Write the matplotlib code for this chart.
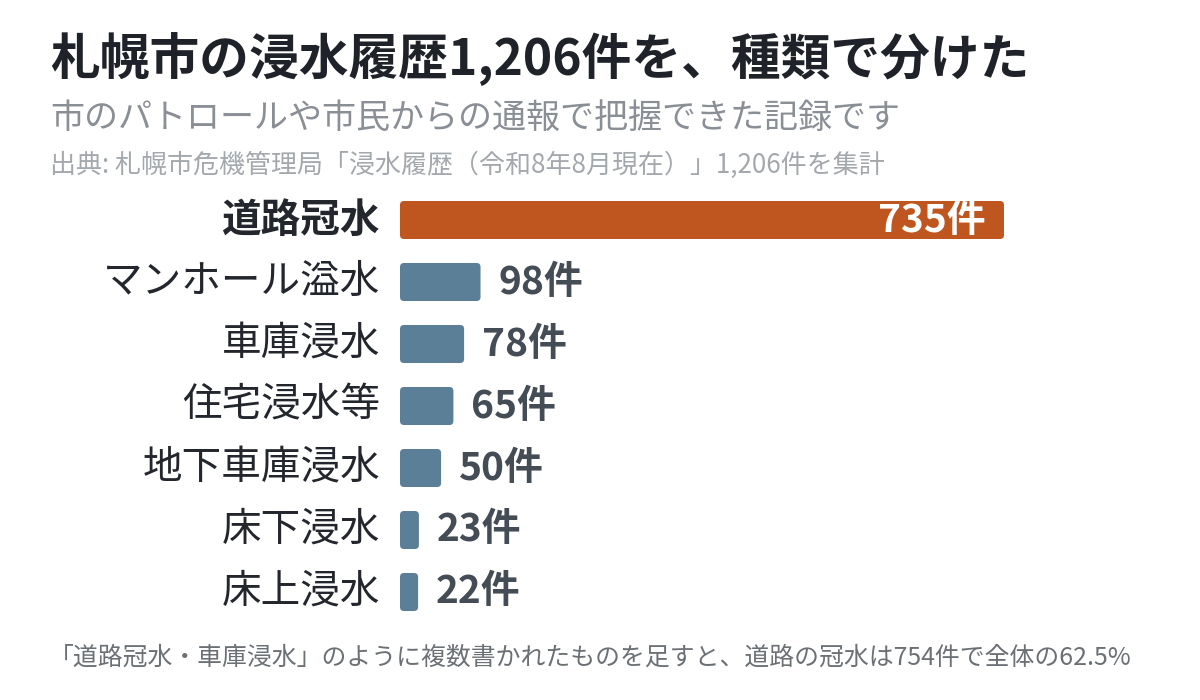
import matplotlib
matplotlib.use("Agg")
import matplotlib.pyplot as plt
from matplotlib.patches import FancyBboxPatch

plt.rcParams['font.family'] = ['Noto Sans CJK JP', 'DejaVu Sans']

categories = ["道路冠水", "マンホール溢水", "車庫浸水", "住宅浸水等", "地下車庫浸水", "床下浸水", "床上浸水"]
values = [735, 98, 78, 65, 50, 23, 22]
value_labels = [f"{v}件" for v in values]

title = "札幌市の浸水履歴1,206件を、種類で分けた"
subtitle = "市のパトロールや市民からの通報で把握できた記録です"
source = "出典: 札幌市危機管理局「浸水履歴（令和8年8月現在）」1,206件を集計"
footnote = "「道路冠水・車庫浸水」のように複数書かれたものを足すと、道路の冠水は754件で全体の62.5%"

W, H = 1200, 700
fig = plt.figure(figsize=(12, 7), dpi=100)
fig.patch.set_facecolor("white")

row_px = 62
ax_left = 400 / W
ax_width = 604 / W
ax_top_px = 220 - row_px / 2
ax_h_px = row_px * len(categories)
ax = fig.add_axes([ax_left, 1 - (ax_top_px + ax_h_px) / H, ax_width, ax_h_px / H])
ax.set_xlim(0, values[0])
ax.set_ylim(len(categories) - 0.5, -0.5)
ax.axis("off")

orange = "#c0561f"
blue = "#5b7f96"
colors = [orange] + [blue] * (len(values) - 1)
bar_h = 38 / row_px

bars = ax.barh(range(len(values)), values, height=bar_h, color=colors)
units_per_px_x = values[0] / 604
units_per_px_y = 1 / row_px
for b, c in zip(bars, colors):
    x0, y0 = b.get_x(), b.get_y()
    w, h = b.get_width(), b.get_height()
    b.set_visible(False)
    p = FancyBboxPatch((x0, y0), w, h,
                       boxstyle=f"round,pad=0,rounding_size={4*units_per_px_x}",
                       mutation_aspect=units_per_px_y / units_per_px_x,
                       facecolor=c, edgecolor="none")
    ax.add_patch(p)

gap = 18 * units_per_px_x
for i, (v, lab) in enumerate(zip(values, value_labels)):
    if i == 0:
        ax.text(v - gap, i, lab, ha="right", va="center", fontsize=28,
                fontweight="bold", color="white")
    else:
        ax.text(v + gap, i, lab, ha="left", va="center", fontsize=28,
                fontweight="bold", color="#444c56")

for i, cat in enumerate(categories):
    fig.text(380 / W, 1 - (220 + i * row_px) / H, cat, ha="right", va="center",
             fontsize=28.5, color="#23272d",
             fontweight="bold" if i == 0 else "normal")

fig.text(50 / W, 1 - 60 / H, title, ha="left", va="center", fontsize=35.8,
         fontweight="bold", color="#1f2329")
fig.text(50 / W, 1 - 118 / H, subtitle, ha="left", va="center", fontsize=24.5,
         color="#8a8f96")
fig.text(50 / W, 1 - 165 / H, source, ha="left", va="center", fontsize=18.7,
         color="#a3a8ad")
fig.text(590 / W, 1 - 658 / H, footnote, ha="center", va="center", fontsize=17.9,
         color="#6b7075")

fig.savefig("out.png", dpi=100, facecolor="white")
